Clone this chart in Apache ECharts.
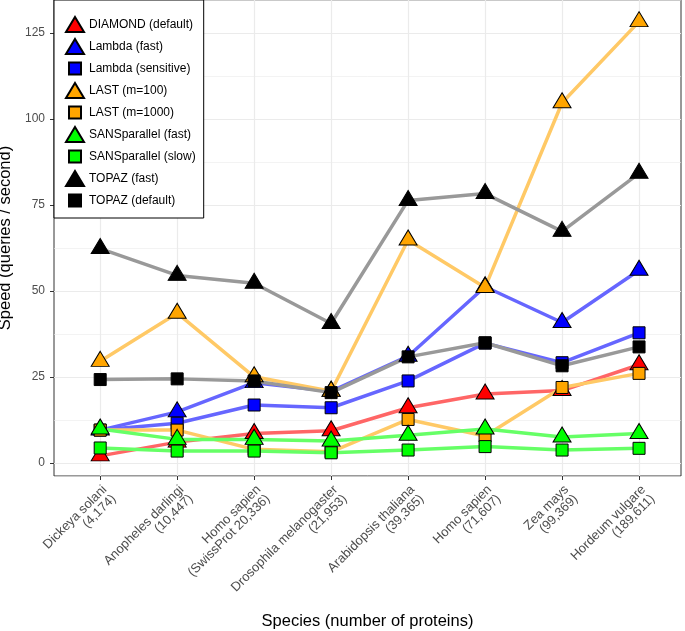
<!DOCTYPE html>
<html>
<head>
<meta charset="utf-8">
<script src="https://cdn.jsdelivr.net/npm/echarts@6/dist/echarts.min.js"></script>
<style>
html,body{margin:0;padding:0;background:#fff}
#chart{width:685px;height:631px}
</style>
</head>
<body>
<div id="chart"></div>
<script>
// ---- data ----
const categories = [
  'Dickeya solani\n(4,174)',
  'Anopheles darlingi\n(10,447)',
  'Homo sapien\n(SwissProt 20,336)',
  'Drosophila melanogaster\n(21,953)',
  'Arabidopsis thaliana\n(39,365)',
  'Homo sapien\n(71,607)',
  'Zea mays\n(99,369)',
  'Hordeum vulgare\n(189,611)'
];
const yTickStep = 25;
const yTickValues = [0, 25, 50, 75, 100, 125];
const diamondDefault   = [2.0, 6.0, 8.5, 9.3, 16.0, 20.0, 21.0, 28.5];
const lambdaFast       = [9.5, 14.8, 23.3, 20.8, 31.0, 51.2, 40.8, 56.0];
const lambdaSensitive  = [9.5, 11.5, 16.8, 16.0, 23.8, 34.8, 29.1, 37.8];
const last100          = [29.5, 43.5, 25.0, 20.8, 64.8, 51.0, 104.7, 128.3];
const last1000         = [9.5, 9.5, 3.9, 3.2, 12.6, 7.8, 21.9, 26.0];
const sansFast         = [9.8, 6.8, 6.8, 6.3, 8.0, 9.8, 7.5, 8.5];
const sansSlow         = [4.3, 3.4, 3.4, 2.9, 3.7, 4.7, 3.7, 4.2];
const topazFast        = [62.3, 54.5, 52.2, 40.5, 76.3, 78.3, 67.3, 84.2];
const topazDefault     = [24.2, 24.4, 23.8, 20.4, 30.8, 34.9, 28.2, 33.7];

// ---- styling ----
const FONT = "'Liberation Sans', Arial, Helvetica, sans-serif";
const SQ_ICON = 'path://M0,0M18,15M3,1.5h12v12h-12z';
const defs = [
  {name:'DIAMOND (default)',    data:diamondDefault,  fill:'#FF0000', line:'#FF6666', tri:true},
  {name:'Lambda (fast)',        data:lambdaFast,      fill:'#0000FF', line:'#6666FF', tri:true},
  {name:'Lambda (sensitive)',   data:lambdaSensitive, fill:'#0000FF', line:'#6666FF', tri:false},
  {name:'LAST (m=100)',         data:last100,         fill:'#FFA500', line:'#FFC966', tri:true},
  {name:'LAST (m=1000)',        data:last1000,        fill:'#FFA500', line:'#FFC966', tri:false},
  {name:'SANSparallel (fast)',  data:sansFast,        fill:'#00FF00', line:'#66FF66', tri:true},
  {name:'SANSparallel (slow)',  data:sansSlow,        fill:'#00FF00', line:'#66FF66', tri:false},
  {name:'TOPAZ (fast)',         data:topazFast,       fill:'#000000', line:'#999999', tri:true},
  {name:'TOPAZ (default)',      data:topazDefault,    fill:'#000000', line:'#999999', tri:false}
];

const series = [];
defs.forEach(d => {
  series.push({
    type:'line', name:d.name + ' _line', data:d.data.map((v,i)=>[i,v]),
    showSymbol:false, symbol:'none', silent:true, z:2,
    lineStyle:{color:d.line, width:3.5}, itemStyle:{color:d.line}
  });
});
defs.forEach(d => {
  series.push({
    type:'scatter', name:d.name, data:d.data.map((v,i)=>[i,v]), z:3,
    symbol: d.tri ? 'triangle' : 'rect',
    symbolSize: d.tri ? [18,15] : 12,
    symbolOffset: d.tri ? [0,-2.5] : [0,0],
    itemStyle:{color:d.fill, borderColor:'#000', borderWidth:1, opacity:1}
  });
});

const isStep = (v, s) => Math.abs(v/s - Math.round(v/s)) < 1e-6;

const chart = echarts.init(document.getElementById('chart'));
chart.setOption({
  animation:false,
  backgroundColor:'#fff',
  textStyle:{fontFamily:FONT},
  grid:{left:54, right:4, top:0, bottom:155, show:true, borderColor:'#333', borderWidth:1,
        backgroundColor:'transparent', outerBoundsMode:'none', containLabel:false},
  legend:{
    orient:'vertical', left:54, top:0, padding:[16,8,9,11],
    itemWidth:18, itemHeight:15, itemGap:5,
    backgroundColor:'#fff', borderColor:'#000', borderWidth:1, borderRadius:0,
    textStyle:{fontFamily:FONT, fontSize:12, color:'#000'},
    selectedMode:false, z:10,
    data: defs.map(d => ({name:d.name, icon: d.tri ? 'triangle' : SQ_ICON}))
  },
  xAxis:{
    type:'value', min:-0.6, max:7.545, minInterval:1, maxInterval:1, position:'bottom',
    axisLine:{show:false, onZero:false},
    axisTick:{show:true, length:4, lineStyle:{color:'#333', width:1},
      customValues: categories.map((c, i) => i)},
    axisLabel:{
      rotate:45, fontFamily:FONT, fontSize:13, color:'#4D4D4D', lineHeight:13,
      margin:7, align:'right', verticalAlign:'top',
      formatter: v => { const i = Math.round(v); return (Math.abs(v-i)<1e-6 && i>=0 && i<categories.length) ? categories[i] : ''; }
    },
    splitLine:{show:true, lineStyle:{color:'#EBEBEB', width:1.2}},
    name:'Species (number of proteins)', nameLocation:'middle', nameGap:137,
    nameTextStyle:{fontFamily:FONT, fontSize:16.5, color:'#000'}
  },
  yAxis:[{
    type:'value', min:-3.85, max:134.6, minInterval:yTickStep, maxInterval:yTickStep, position:'left',
    axisLine:{show:false, onZero:false},
    axisTick:{show:true, length:4, lineStyle:{color:'#333', width:1}, customValues: yTickValues},
    axisLabel:{fontFamily:FONT, fontSize:12, color:'#4D4D4D', margin:9,
      formatter: v => isStep(v, yTickStep) ? String(Math.round(v)) : ''},
    splitLine:{show:true, lineStyle:{color:'#EBEBEB', width:1.2}},
    name:'Speed (queries / second)', nameLocation:'middle', nameGap:36,
    nameTextStyle:{fontFamily:FONT, fontSize:16.5, color:'#000'}
  },{
    type:'value', min:-3.85, max:134.6, minInterval:yTickStep/2, maxInterval:yTickStep/2, position:'right',
    axisLine:{show:false, onZero:false}, axisTick:{show:false}, axisLabel:{show:false},
    splitLine:{show:true, lineStyle:{color:'#EBEBEB', width:0.6}}
  }],
  series: series
});
</script>
</body>
</html>
